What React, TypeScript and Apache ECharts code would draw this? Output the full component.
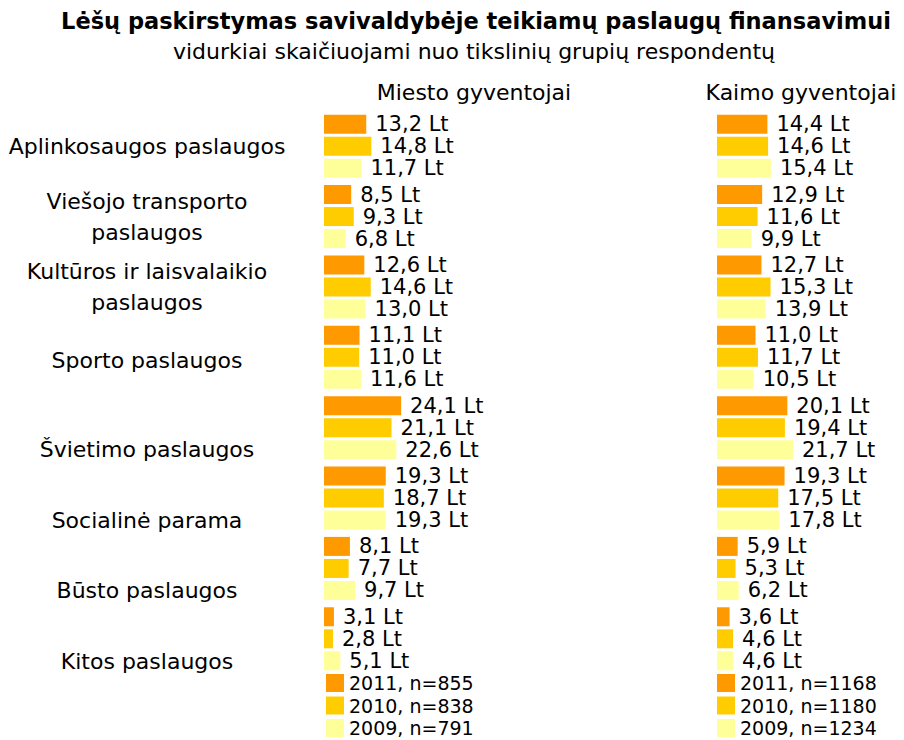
import React, { useEffect, useRef } from "react";
import * as echarts from "echarts";

const categories = [
  "Aplinkosaugos paslaugos",
  "Viešojo transporto\npaslaugos",
  "Kultūros ir laisvalaikio\npaslaugos",
  "Sporto paslaugos",
  "Švietimo paslaugos",
  "Socialinė parama",
  "Būsto paslaugos",
  "Kitos paslaugos",
];

const cityNames = ["2011, n=855", "2010, n=838", "2009, n=791"];
const ruralNames = ["2011, n=1168", "2010, n=1180", "2009, n=1234"];

const city2011 = [13.2, 8.5, 12.6, 11.1, 24.1, 19.3, 8.1, 3.1];
const city2010 = [14.8, 9.3, 14.6, 11.0, 21.1, 18.7, 7.7, 2.8];
const city2009 = [11.7, 6.8, 13.0, 11.6, 22.6, 19.3, 9.7, 5.1];

const rural2011 = [14.4, 12.9, 12.7, 11.0, 20.1, 19.3, 5.9, 3.6];
const rural2010 = [14.6, 11.6, 15.3, 11.7, 19.4, 17.5, 5.3, 4.6];
const rural2009 = [15.4, 9.9, 13.9, 10.5, 21.7, 17.8, 6.2, 4.6];

const titleText = "Lėšų paskirstymas savivaldybėje teikiamų paslaugų finansavimui";
const subtitleText = "vidurkiai skaičiuojami nuo tikslinių grupių respondentų";
const panelTitles = ["Miesto gyventojai", "Kaimo gyventojai"];

const colors = ["#FF9900", "#FFCC00", "#FFFF99"];
const FONT = "'DejaVu Sans', Verdana, sans-serif";

// vertical shift (px) of some category labels, as in the original layout
const labelShift = [0, 0, 0, 3, 22, 22, 22, 23];

export default function App() {
  const ref = useRef<HTMLDivElement>(null);
  useEffect(() => {
    document.body.style.margin = "0";
    const chart = echarts.init(ref.current!, null, { renderer: "svg" });
    const fmt = (p: any) => p.value.toFixed(1).replace(".", ",") + " Lt";
    const mkSeries = (names: string[], data: number[][], idx: number) =>
      names.map((n, i) => ({
        type: "bar",
        name: n,
        xAxisIndex: idx,
        yAxisIndex: idx,
        data: data[i],
        barWidth: 19,
        barGap: "16%",
        itemStyle: { color: colors[i] },
        label: {
          show: true,
          position: "right",
          distance: 9,
          formatter: fmt,
          color: "#000",
          fontFamily: FONT,
          fontSize: 21,
        },
      }));
    const gridTop = 111;
    const gridHeight = 563;
    const rich: any = {};
    const shifts = Array.from(new Set(labelShift));
    shifts.forEach((s) => {
      rich["s" + s] = {
        fontFamily: FONT,
        fontSize: 22,
        lineHeight: 31,
        color: "#000",
        padding: [s * 2, 0, 0, 0],
        align: "center",
      };
    });
    const legendCommon = {
      orient: "vertical",
      top: 672,
      height: 100,
      itemWidth: 18,
      itemHeight: 18,
      itemGap: 0.5,
      icon: "rect",
      padding: 0,
      textStyle: { fontFamily: FONT, fontSize: 19, color: "#000", lineHeight: 22 },
    };
    const option: any = {
      animation: false,
      graphic: [
        {
          type: "text",
          style: {
            text: titleText,
            x: 476,
            y: 21,
            align: "center",
            verticalAlign: "middle",
            font: `bold 22.5px ${FONT}`,
            fill: "#000",
          },
        },
        {
          type: "text",
          style: {
            text: subtitleText,
            x: 474,
            y: 51,
            align: "center",
            verticalAlign: "middle",
            font: `22px ${FONT}`,
            fill: "#000",
          },
        },
        {
          type: "text",
          style: {
            text: panelTitles[0],
            x: 474,
            y: 92,
            align: "center",
            verticalAlign: "middle",
            font: `22px ${FONT}`,
            fill: "#000",
          },
        },
        {
          type: "text",
          style: {
            text: panelTitles[1],
            x: 801,
            y: 92,
            align: "center",
            verticalAlign: "middle",
            font: `22px ${FONT}`,
            fill: "#000",
          },
        },
      ],
      legend: [
        { ...legendCommon, data: cityNames, left: 326 },
        { ...legendCommon, data: ruralNames, left: 717 },
      ],
      grid: [
        { left: 324, top: gridTop, width: 160, height: gridHeight, containLabel: false, outerBoundsMode: "none" },
        { left: 717, top: gridTop, width: 175, height: gridHeight, containLabel: false, outerBoundsMode: "none" },
      ],
      xAxis: [0, 1].map((i) => ({
        type: "value",
        gridIndex: i,
        min: 0,
        max: 50,
        show: false,
        splitLine: { show: false },
      })),
      yAxis: [0, 1].map((i) => ({
        type: "category",
        gridIndex: i,
        inverse: true,
        data: categories,
        axisLine: { show: false },
        axisTick: { show: false },
        splitLine: { show: false },
        axisLabel: {
          show: i === 0,
          align: "center",
          margin: 177,
          fontFamily: FONT,
          fontSize: 22,
          lineHeight: 31,
          color: "#000",
          interval: 0,
          formatter: (v: string, k: number) =>
            v
              .split("\n")
              .map((line) => `{s${labelShift[k]}|${line}}`)
              .join("\n"),
          rich,
        },
      })),
      series: [
        ...mkSeries(cityNames, [city2011, city2010, city2009], 0),
        ...mkSeries(ruralNames, [rural2011, rural2010, rural2009], 1),
      ],
    };
    chart.setOption(option);
    return () => chart.dispose();
  }, []);
  return <div ref={ref} style={{ width: 904, height: 740 }} />;
}
